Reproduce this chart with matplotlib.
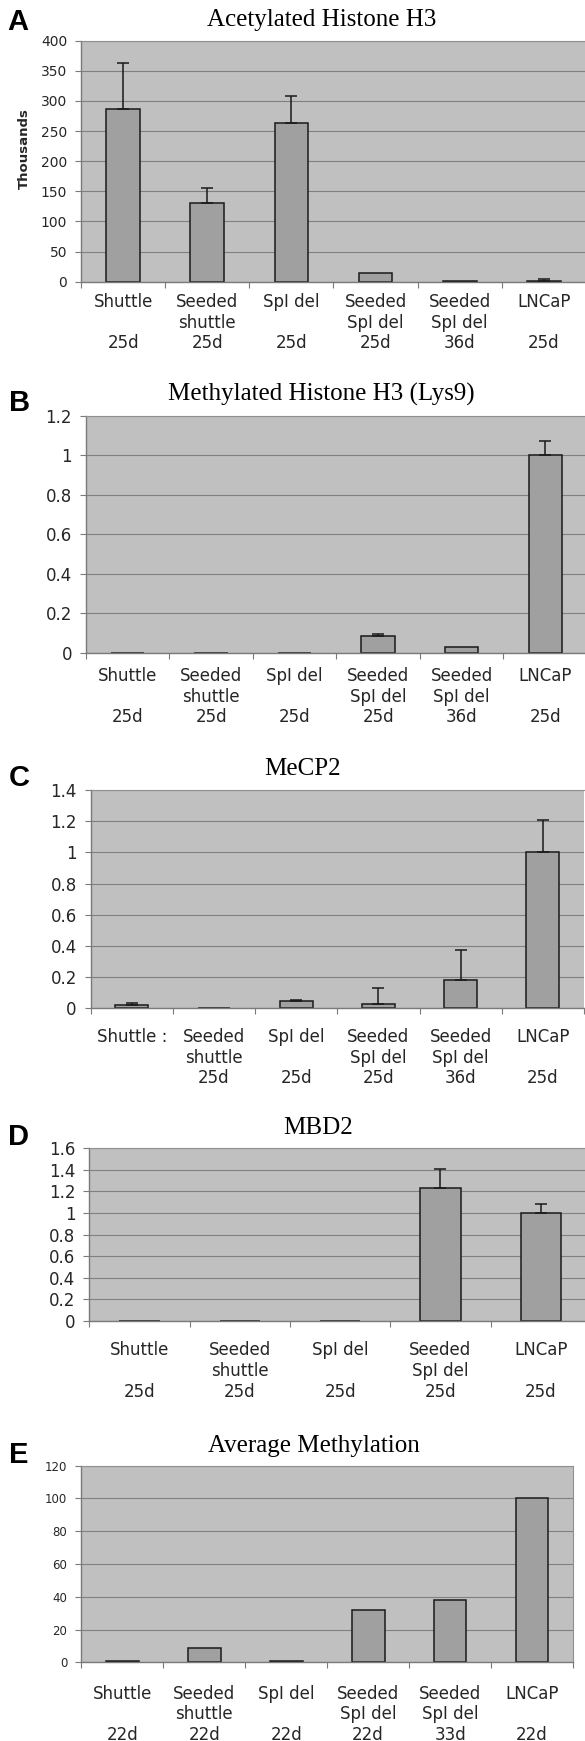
import matplotlib
matplotlib.use("Agg")
import matplotlib.pyplot as plt
import numpy as np
from matplotlib.ticker import FuncFormatter, MultipleLocator

# data
labels_a = ["Shuttle\n\n25d", "Seeded\nshuttle\n25d", "SpI del\n\n25d",
            "Seeded\nSpI del\n25d", "Seeded\nSpI del\n36d", "LNCaP\n\n25d"]
acetyl_vals = [286, 131, 263, 15, 1, 1]
acetyl_err = [77, 25, 46, None, None, 3]

methyl_vals = [0.002, 0.001, 0.001, 0.084, 0.03, 1.0]
methyl_err = [None, None, None, 0.01, None, 0.074]

labels_c = ["Shuttle :"] + labels_a[1:]
mecp2_vals = [0.024, 0.001, 0.047, 0.03, 0.182, 1.0]
mecp2_err = [0.01, None, 0.004, 0.098, 0.19, 0.208]

labels_d = ["Shuttle\n\n25d", "Seeded\nshuttle\n25d", "SpI del\n\n25d",
            "Seeded\nSpI del\n25d", "LNCaP\n\n25d"]
mbd2_vals = [0.003, 0.003, 0.003, 1.232, 1.0]
mbd2_err = [None, None, None, 0.173, 0.084]

labels_e = ["Shuttle\n\n22d", "Seeded\nshuttle\n22d", "SpI del\n\n22d",
            "Seeded\nSpI del\n22d", "Seeded\nSpI del\n33d", "LNCaP\n\n22d"]
avg_meth_vals = [0.8, 8.5, 1.0, 32, 38, 100]

FIG_W, FIG_H = 585, 1741
BG = "#c0c0c0"
BAR = "#a0a0a0"
EDGE = "#1a1a1a"
GRID = "#808080"
SPINE = "#7a7a7a"
TXT = "#262626"


def px_rect(left, right, top, bottom):
    return [left / FIG_W, 1 - bottom / FIG_H, (right - left) / FIG_W, (bottom - top) / FIG_H]


def draw_panel(fig, rect, letter, letter_xy, title, title_xy, values, errors, labels,
               ymax, ystep, ytick_size, label_pad, right_spine=False):
    ax = fig.add_axes(rect)
    x = np.arange(len(values))
    ax.set_facecolor(BG)
    ax.set_axisbelow(True)
    ax.yaxis.grid(True, color=GRID, linewidth=0.8)
    ax.bar(x, values, width=0.4, color=BAR, edgecolor=EDGE, linewidth=1.1, zorder=2)

    if errors is not None:
        idx = [i for i, e in enumerate(errors) if e is not None]
        up = [errors[i] for i in idx]
        ax.errorbar(x[idx], np.array(values)[idx], yerr=[np.zeros(len(idx)), up],
                    fmt="none", ecolor=EDGE, elinewidth=1.1, capsize=4, capthick=1.1, zorder=3)

    ax.set_xlim(-0.5, len(values) - 0.5)
    ax.set_ylim(0, ymax)
    ax.yaxis.set_major_locator(MultipleLocator(ystep))
    ax.yaxis.set_major_formatter(FuncFormatter(lambda v, p: f"{v:g}"))
    ax.set_xticks(x)
    ax.set_xticklabels(labels)
    ax.set_xticks(np.arange(len(values) + 1) - 0.5, minor=True)
    ax.tick_params(axis="x", which="major", length=0, pad=label_pad, labelsize=12, labelcolor=TXT)
    ax.tick_params(axis="x", which="minor", length=4, width=0.8, color=SPINE, direction="out")
    ax.tick_params(axis="y", length=4, width=0.8, color=SPINE, labelsize=ytick_size,
                   labelcolor=TXT, pad=6)
    for side in ["left", "bottom"]:
        ax.spines[side].set_color(SPINE)
        ax.spines[side].set_linewidth(1.0)
    ax.spines["top"].set_color("#909090")
    ax.spines["top"].set_linewidth(0.8)
    ax.spines["right"].set_visible(right_spine)
    ax.spines["right"].set_color("#909090")

    fig.text(title_xy[0] / FIG_W, 1 - title_xy[1] / FIG_H, title, family="Liberation Serif",
             size=18, ha="center", va="center")
    fig.text(letter_xy[0] / FIG_W, 1 - letter_xy[1] / FIG_H, letter, family="Liberation Sans",
             weight="bold", size=21, ha="center", va="center")
    return ax


fig = plt.figure(figsize=(FIG_W / 100, FIG_H / 100), dpi=100)
fig.patch.set_facecolor("white")

draw_panel(fig, px_rect(81, 586, 40.7, 281.7), "A", (18, 22.5), "Acetylated Histone H3",
           (322, 20), acetyl_vals, acetyl_err, labels_a, 400, 50, 10, 8)
fig.text(24 / FIG_W, 1 - 148.5 / FIG_H, "Thousands", rotation=90, weight="bold",
         size=9.5, ha="center", va="center", color=TXT)

draw_panel(fig, px_rect(85.8, 587, 415.7, 653), "B", (19.5, 403), "Methylated Histone H3 (Lys9)",
           (321.5, 394.3), methyl_vals, methyl_err, labels_a, 1.2, 0.2, 12, 10)

draw_panel(fig, px_rect(90.7, 584, 790, 1008.3), "C", (19.5, 778), "MeCP2",
           (302.6, 769.3), mecp2_vals, mecp2_err, labels_c, 1.4, 0.2, 12, 14)

draw_panel(fig, px_rect(89.3, 591, 1148.3, 1321), "D", (18, 1136.7), "MBD2",
           (318, 1128.3), mbd2_vals, mbd2_err, labels_d, 1.6, 0.2, 12, 14.5)

draw_panel(fig, px_rect(81.3, 573, 1465.7, 1662.3), "E", (19, 1455), "Average Methylation",
           (314, 1445.7), avg_meth_vals, None, labels_e, 120, 20, 8.5, 16, right_spine=True)

fig.savefig("out.png", dpi=100)
